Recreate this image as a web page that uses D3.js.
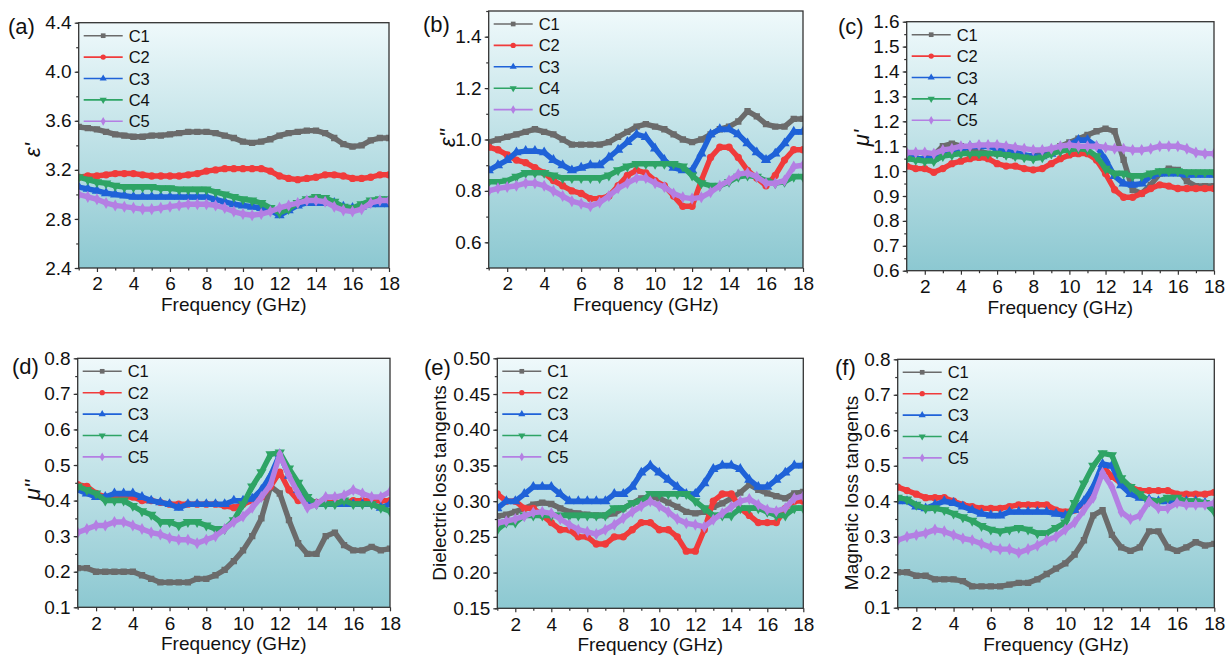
<!DOCTYPE html>
<html lang="en">
<head>
  <meta charset="UTF-8">
  <title>Permittivity, permeability and loss tangents of C1–C5</title>
  <script src="https://d3js.org/d3.v7.min.js"></script>
  <style>
    body { margin: 0; background: #fff; }
    text { font-family: "Liberation Sans", Arial, sans-serif; fill: #111; }
    .tick text { font-size: 19px; }
    .tick line { stroke: #333; stroke-width: 1.2px; }
  </style>
</head>
<body>
  <svg id="chart"></svg>

  <script>
    // Frequency grid (GHz), shared by every panel
    const freq = [1,1.5,2,2.5,3,3.5,4,4.5,5,5.5,6,6.5,7,7.5,8,8.5,9,9.5,10,10.5,11,11.5,12,12.5,13,13.5,14,14.5,15,15.5,16,16.5,17,17.5,18];
    const seriesNames = ["C1", "C2", "C3", "C4", "C5"];
    const xTicks = [2, 4, 6, 8, 10, 12, 14, 16, 18];

    // (a) real permittivity
    const epsReal = [
      [3.55,3.54,3.53,3.51,3.49,3.48,3.47,3.47,3.48,3.48,3.49,3.50,3.51,3.51,3.51,3.50,3.48,3.46,3.43,3.42,3.43,3.45,3.48,3.50,3.51,3.52,3.52,3.50,3.46,3.41,3.39,3.40,3.44,3.46,3.46],
      [3.14,3.15,3.15,3.16,3.17,3.17,3.17,3.16,3.15,3.15,3.15,3.15,3.16,3.17,3.19,3.20,3.21,3.21,3.21,3.21,3.21,3.19,3.15,3.13,3.12,3.13,3.14,3.16,3.16,3.15,3.13,3.13,3.14,3.16,3.16],
      [3.06,3.045,3.03,3.01,3.00,2.99,2.98,2.98,2.98,2.98,2.98,2.98,2.98,2.98,2.98,2.96,2.94,2.92,2.91,2.90,2.89,2.87,2.83,2.87,2.91,2.93,2.93,2.93,2.93,2.90,2.89,2.90,2.92,2.92,2.92],
      [3.14,3.12,3.10,3.09,3.07,3.06,3.06,3.06,3.06,3.05,3.05,3.04,3.04,3.04,3.04,3.02,3.00,2.98,2.96,2.95,2.93,2.89,2.85,2.88,2.93,2.96,2.98,2.97,2.94,2.90,2.89,2.92,2.95,2.96,2.96],
      [3.00,2.98,2.96,2.93,2.91,2.90,2.89,2.88,2.88,2.89,2.90,2.91,2.92,2.92,2.92,2.91,2.89,2.86,2.84,2.83,2.84,2.86,2.89,2.91,2.93,2.95,2.95,2.94,2.90,2.87,2.86,2.88,2.93,2.95,2.95]
    ];
    // (b) imaginary permittivity
    const epsImag = [
      [0.99,1.00,1.01,1.02,1.03,1.04,1.03,1.02,1.00,0.98,0.98,0.98,0.98,0.99,1.01,1.03,1.05,1.06,1.05,1.04,1.02,1.00,0.99,1.00,1.02,1.04,1.05,1.07,1.11,1.09,1.06,1.05,1.05,1.08,1.08],
      [0.97,0.96,0.94,0.92,0.91,0.89,0.87,0.84,0.82,0.80,0.79,0.77,0.77,0.78,0.82,0.86,0.88,0.87,0.84,0.82,0.78,0.74,0.74,0.84,0.93,0.97,0.97,0.93,0.88,0.85,0.82,0.86,0.92,0.96,0.96],
      [0.88,0.90,0.92,0.95,0.955,0.955,0.95,0.92,0.90,0.88,0.89,0.90,0.90,0.93,0.96,0.99,1.02,1.01,0.965,0.92,0.89,0.88,0.88,0.945,1.02,1.04,1.04,1.02,0.985,0.95,0.92,0.945,0.985,1.03,1.03],
      [0.835,0.835,0.84,0.855,0.87,0.87,0.87,0.86,0.85,0.85,0.85,0.85,0.85,0.86,0.88,0.895,0.905,0.905,0.905,0.905,0.905,0.895,0.86,0.83,0.82,0.82,0.835,0.855,0.86,0.855,0.84,0.83,0.835,0.855,0.855],
      [0.80,0.81,0.815,0.82,0.83,0.83,0.82,0.80,0.78,0.76,0.75,0.74,0.755,0.78,0.81,0.83,0.85,0.85,0.83,0.815,0.79,0.775,0.77,0.775,0.795,0.82,0.84,0.865,0.87,0.855,0.83,0.83,0.84,0.895,0.90]
    ];
    // (c) real permeability
    const muReal = [
      [1.05,1.05,1.05,1.065,1.10,1.11,1.10,1.09,1.08,1.07,1.07,1.065,1.06,1.06,1.06,1.07,1.085,1.10,1.115,1.13,1.145,1.16,1.17,1.16,1.045,0.925,0.91,0.945,0.99,1.01,1.005,0.96,0.94,0.94,0.94],
      [1.02,1.01,1.01,0.995,1.01,1.03,1.04,1.05,1.055,1.05,1.03,1.02,1.02,1.01,1.005,1.01,1.03,1.05,1.065,1.07,1.07,1.045,0.99,0.925,0.895,0.895,0.91,0.93,0.945,0.94,0.93,0.93,0.93,0.93,0.93],
      [1.06,1.05,1.05,1.05,1.07,1.08,1.085,1.10,1.10,1.10,1.09,1.08,1.075,1.065,1.06,1.06,1.07,1.085,1.105,1.125,1.125,1.10,1.045,0.98,0.95,0.945,0.95,0.98,0.99,0.99,0.99,0.985,0.985,0.985,0.985],
      [1.05,1.045,1.04,1.04,1.06,1.065,1.07,1.07,1.07,1.07,1.07,1.065,1.06,1.055,1.05,1.055,1.07,1.08,1.085,1.09,1.085,1.06,1.01,0.99,0.99,0.98,0.98,0.99,1.00,1.00,1.00,0.995,0.995,0.995,0.995],
      [1.075,1.075,1.075,1.07,1.085,1.09,1.10,1.10,1.105,1.105,1.105,1.10,1.095,1.09,1.085,1.085,1.09,1.10,1.105,1.10,1.10,1.10,1.095,1.09,1.09,1.085,1.085,1.09,1.10,1.10,1.10,1.09,1.075,1.07,1.07]
    ];
    // (d) imaginary permeability
    const muImag = [
      [0.21,0.21,0.20,0.20,0.20,0.20,0.20,0.19,0.18,0.17,0.17,0.17,0.17,0.18,0.18,0.19,0.205,0.23,0.26,0.30,0.35,0.44,0.42,0.345,0.28,0.25,0.25,0.30,0.31,0.275,0.26,0.26,0.27,0.26,0.265],
      [0.445,0.44,0.42,0.41,0.41,0.41,0.41,0.40,0.40,0.395,0.39,0.39,0.39,0.39,0.39,0.39,0.385,0.38,0.39,0.40,0.41,0.44,0.48,0.43,0.40,0.40,0.395,0.395,0.395,0.395,0.40,0.40,0.40,0.40,0.40],
      [0.43,0.42,0.41,0.41,0.42,0.42,0.42,0.41,0.40,0.395,0.39,0.38,0.39,0.39,0.39,0.39,0.39,0.40,0.40,0.405,0.43,0.47,0.53,0.47,0.43,0.40,0.39,0.39,0.39,0.39,0.39,0.39,0.39,0.38,0.39],
      [0.44,0.43,0.42,0.40,0.40,0.40,0.385,0.37,0.36,0.34,0.34,0.33,0.34,0.34,0.33,0.32,0.32,0.345,0.39,0.44,0.48,0.53,0.535,0.49,0.45,0.41,0.39,0.39,0.39,0.40,0.39,0.39,0.39,0.38,0.37],
      [0.31,0.32,0.33,0.33,0.34,0.34,0.33,0.32,0.31,0.305,0.295,0.29,0.29,0.28,0.29,0.30,0.32,0.34,0.355,0.38,0.41,0.445,0.53,0.47,0.42,0.38,0.39,0.41,0.41,0.415,0.43,0.42,0.41,0.41,0.425]
    ];
    // (e) dielectric loss tangent
    const dielTan = [
      [0.279,0.281,0.285,0.29,0.295,0.298,0.296,0.29,0.285,0.283,0.281,0.28,0.28,0.283,0.29,0.297,0.304,0.306,0.304,0.298,0.292,0.285,0.283,0.285,0.292,0.297,0.304,0.312,0.323,0.316,0.311,0.307,0.304,0.311,0.313],
      [0.31,0.30,0.30,0.29,0.29,0.28,0.27,0.26,0.26,0.25,0.25,0.24,0.24,0.25,0.25,0.26,0.27,0.27,0.26,0.26,0.25,0.23,0.23,0.26,0.30,0.31,0.31,0.29,0.28,0.27,0.27,0.27,0.29,0.30,0.30],
      [0.29,0.30,0.30,0.31,0.32,0.32,0.32,0.31,0.30,0.30,0.30,0.30,0.30,0.31,0.31,0.32,0.34,0.35,0.34,0.33,0.32,0.31,0.31,0.325,0.345,0.35,0.35,0.345,0.33,0.32,0.32,0.33,0.34,0.35,0.35],
      [0.26,0.27,0.27,0.28,0.28,0.28,0.28,0.28,0.28,0.28,0.28,0.28,0.28,0.29,0.29,0.297,0.30,0.31,0.31,0.31,0.31,0.31,0.30,0.29,0.28,0.28,0.28,0.29,0.29,0.29,0.285,0.28,0.28,0.29,0.29],
      [0.269,0.272,0.275,0.279,0.284,0.285,0.283,0.275,0.267,0.26,0.257,0.254,0.26,0.267,0.276,0.285,0.293,0.30,0.293,0.285,0.275,0.269,0.267,0.264,0.274,0.283,0.292,0.30,0.303,0.295,0.288,0.286,0.29,0.304,0.307]
    ];
    // (f) magnetic loss tangent
    const magTan = [
      [0.20,0.20,0.19,0.19,0.18,0.18,0.18,0.175,0.16,0.16,0.16,0.16,0.165,0.17,0.17,0.18,0.195,0.21,0.225,0.25,0.29,0.36,0.375,0.305,0.27,0.26,0.27,0.315,0.315,0.27,0.26,0.27,0.285,0.275,0.28],
      [0.44,0.43,0.42,0.41,0.41,0.41,0.40,0.39,0.385,0.38,0.38,0.38,0.385,0.39,0.39,0.39,0.39,0.375,0.37,0.375,0.395,0.43,0.50,0.47,0.45,0.44,0.43,0.43,0.43,0.43,0.42,0.42,0.42,0.42,0.425],
      [0.40,0.40,0.385,0.38,0.39,0.40,0.395,0.385,0.375,0.365,0.36,0.36,0.37,0.37,0.37,0.37,0.37,0.365,0.36,0.375,0.40,0.44,0.505,0.50,0.445,0.42,0.41,0.405,0.40,0.40,0.40,0.40,0.40,0.395,0.39],
      [0.41,0.405,0.39,0.38,0.38,0.375,0.365,0.355,0.345,0.33,0.32,0.315,0.32,0.325,0.32,0.31,0.31,0.325,0.34,0.395,0.45,0.50,0.535,0.53,0.465,0.44,0.42,0.40,0.40,0.41,0.41,0.40,0.40,0.395,0.37],
      [0.29,0.30,0.305,0.31,0.32,0.315,0.305,0.295,0.29,0.28,0.27,0.265,0.265,0.255,0.265,0.275,0.29,0.30,0.32,0.34,0.375,0.41,0.48,0.44,0.37,0.35,0.36,0.40,0.38,0.38,0.395,0.39,0.39,0.39,0.395]
    ];

    // y tick labels per panel
    const yTicksA = [2.4, 2.8, 3.2, 3.6, 4.0, 4.4];
    const yTicksB = [0.6, 0.8, 1.0, 1.2, 1.4];
    const yTicksC = [0.6, 0.7, 0.8, 0.9, 1.0, 1.1, 1.2, 1.3, 1.4, 1.5, 1.6];
    const yTicksD = [0.1, 0.2, 0.3, 0.4, 0.5, 0.6, 0.7, 0.8];
    const yTicksE = [0.15, 0.20, 0.25, 0.30, 0.35, 0.40, 0.45, 0.50];
    const yTicksF = [0.1, 0.2, 0.3, 0.4, 0.5, 0.6, 0.7, 0.8];

    const colors = ["#6b6b6b", "#f03b3b", "#1f62d8", "#2ea465", "#b47fe3"];
    const symbols = [d3.symbolSquare, d3.symbolCircle, d3.symbolTriangle, d3.symbolTriangle, d3.symbolDiamond];
    const symbolSize = [40, 42, 46, 46, 42];

    const panels = [
      { tag: "(a)", data: epsReal, ticks: yTicksA, domain: [2.4, 4.4], minor: 0.2, fmt: ".1f", ylabel: "ε'", italic: true,
        left: 78.7, right: 389, top: 22.7, bottom: 268, labX: 32, labY: 150, tagX: 8, tagY: 34 },
      { tag: "(b)", data: epsImag, ticks: yTicksB, domain: [0.5, 1.5], minor: 0.1, fmt: ".1f", ylabel: "ε''", italic: true,
        left: 488.7, right: 803, top: 11, bottom: 268, labX: 447, labY: 138, tagX: 423, tagY: 32 },
      { tag: "(c)", data: muReal, ticks: yTicksC, domain: [0.6, 1.6], minor: 0.05, fmt: ".1f", ylabel: "μ'", italic: true,
        left: 906.7, right: 1214, top: 21.7, bottom: 270.7, labX: 861, labY: 138, tagX: 838, tagY: 34 },
      { tag: "(d)", data: muImag, ticks: yTicksD, domain: [0.1, 0.8], minor: 0.05, fmt: ".1f", ylabel: "μ''", italic: true,
        left: 77.7, right: 390, top: 358.3, bottom: 607.3, labX: 32, labY: 490, tagX: 12, tagY: 374 },
      { tag: "(e)", data: dielTan, ticks: yTicksE, domain: [0.15, 0.50], minor: 0.025, fmt: ".2f", ylabel: "Dielectric loss tangents", italic: false,
        left: 497.3, right: 803.3, top: 358.3, bottom: 608.3, labX: 439, labY: 483, tagX: 424, tagY: 375 },
      { tag: "(f)", data: magTan, ticks: yTicksF, domain: [0.1, 0.8], minor: 0.05, fmt: ".1f", ylabel: "Magnetic loss tangents", italic: false,
        left: 897.7, right: 1214.3, top: 359.3, bottom: 607.7, labX: 851, labY: 493, tagX: 835, tagY: 375 }
    ];

    const svg = d3.select("#chart").attr("width", 1226).attr("height", 656);
    const defs = svg.append("defs");

    // Background gradient of the plot areas
    const grad = defs.append("linearGradient").attr("id", "bg")
        .attr("x1", 0).attr("y1", 0).attr("x2", 0).attr("y2", 1);
    grad.append("stop").attr("offset", "0%").attr("stop-color", "#eff9fb");
    grad.append("stop").attr("offset", "100%").attr("stop-color", "#8cc8d1");

    function marker(k, size) {
      return d3.symbol().type(symbols[k]).size(size)();
    }

    panels.forEach((p, i) => {
      const x = d3.scaleLinear().domain([1, 18]).range([p.left, p.right]);
      const y = d3.scaleLinear().domain(p.domain).range([p.bottom, p.top]);
      const g = svg.append("g");

      g.append("rect")
        .attr("x", p.left).attr("y", p.top)
        .attr("width", p.right - p.left).attr("height", p.bottom - p.top)
        .attr("fill", "url(#bg)");

      defs.append("clipPath").attr("id", "clip" + i)
        .append("rect")
        .attr("x", p.left).attr("y", p.top)
        .attr("width", p.right - p.left).attr("height", p.bottom - p.top);

      const plot = g.append("g").attr("clip-path", `url(#clip${i})`);
      const line = d3.line().x(d => x(d[0])).y(d => y(d[1]));

      p.data.forEach((vals, k) => {
        const pts = freq.map((f, j) => [f, vals[j]]);
        plot.append("path")
          .datum(pts)
          .attr("d", line)
          .attr("fill", "none")
          .attr("stroke", colors[k])
          .attr("stroke-width", 5.4)
          .attr("stroke-linejoin", "round");
        plot.selectAll(null)
          .data(pts)
          .join("path")
          .attr("transform", d => `translate(${x(d[0])},${y(d[1])})` + (k === 3 ? " rotate(180)" : ""))
          .attr("d", marker(k, symbolSize[k]))
          .attr("fill", colors[k]);
      });

      // Axes: major + minor ticks
      g.append("g").attr("transform", `translate(0,${p.bottom})`)
        .call(d3.axisBottom(x).tickValues(xTicks).tickSize(4).tickPadding(5).tickFormat(d3.format("d")));
      g.append("g").attr("transform", `translate(0,${p.bottom})`)
        .call(d3.axisBottom(x).tickValues(d3.range(1, 18, 2)).tickSize(2.5).tickFormat(""));
      g.append("g").attr("transform", `translate(${p.left},0)`)
        .call(d3.axisLeft(y).tickValues(p.ticks).tickSize(4).tickPadding(3).tickFormat(d3.format(p.fmt)));
      const nMinor = Math.round((p.domain[1] - p.domain[0]) / p.minor);
      g.append("g").attr("transform", `translate(${p.left},0)`)
        .call(d3.axisLeft(y).tickValues(d3.range(0, nMinor + 1).map(j => p.domain[0] + j * p.minor)).tickSize(2.5).tickFormat(""));
      g.selectAll(".domain").remove();
      g.selectAll(".tick text").attr("fill", "#111");

      // Frame
      g.append("rect")
        .attr("x", p.left).attr("y", p.top)
        .attr("width", p.right - p.left).attr("height", p.bottom - p.top)
        .attr("fill", "none").attr("stroke", "#333").attr("stroke-width", 1.3);

      // Axis titles
      g.append("text")
        .attr("x", (p.left + p.right) / 2).attr("y", p.bottom + 43)
        .attr("text-anchor", "middle").style("font-size", "19px")
        .text("Frequency (GHz)");
      g.append("text")
        .attr("transform", `translate(${p.labX},${p.labY}) rotate(-90)`)
        .attr("text-anchor", "middle").attr("dominant-baseline", "central")
        .style("font-size", p.italic ? "22px" : "19px")
        .style("font-style", p.italic ? "italic" : "normal")
        .text(p.ylabel);

      // Panel tag
      g.append("text").attr("x", p.tagX).attr("y", p.tagY)
        .style("font-size", "22px").text(p.tag);

      // Legend
      const lx = p.left + 5, ly = p.top + 13;
      seriesNames.forEach((name, k) => {
        const yy = ly + k * 21.4;
        g.append("line").attr("x1", lx).attr("x2", lx + 39).attr("y1", yy).attr("y2", yy)
          .attr("stroke", colors[k]).attr("stroke-width", 1.6);
        g.append("path")
          .attr("transform", `translate(${lx + 19.5},${yy})` + (k === 3 ? " rotate(180)" : ""))
          .attr("d", marker(k, 22)).attr("fill", colors[k]);
        g.append("text").attr("x", lx + 45).attr("y", yy).attr("dominant-baseline", "central")
          .style("font-size", "16.5px").text(name);
      });
    });
  </script>
</body>
</html>
